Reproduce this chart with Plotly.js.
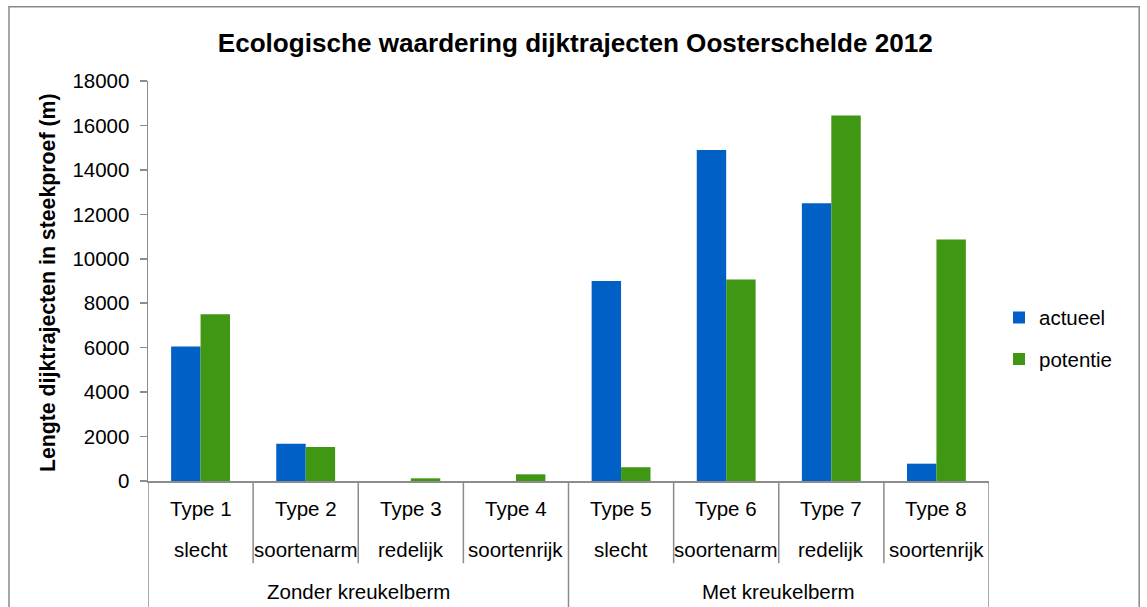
<!DOCTYPE html>
<html>
<head>
<meta charset="utf-8">
<script src="https://cdn.plot.ly/plotly-3.0.1.min.js"></script>
<style>html,body{margin:0;padding:0;background:#fff;}#chart{width:1147px;height:607px;}</style>
</head>
<body>
<div id="chart"></div>
<script>
const typeLabels = ["Type 1","Type 2","Type 3","Type 4","Type 5","Type 6","Type 7","Type 8"];
const qualityLabels = ["slecht","soortenarm","redelijk","soortenrijk","slecht","soortenarm","redelijk","soortenrijk"];
const groupLabels = ["Zonder kreukelberm","Met kreukelberm"];
const groupCenters = [1.5, 5.5];
const actueel = [6050, 1680, 0, 0, 9000, 14900, 12500, 780];
const potentie = [7500, 1530, 120, 300, 620, 9070, 16450, 10870];
const yTicks = [0,2000,4000,6000,8000,10000,12000,14000,16000,18000];

const FONT = '"Liberation Sans", Arial, Helvetica, sans-serif';
const idx = typeLabels.map((_, i) => i);

const traces = [
  {type:'bar', name:'actueel', x: idx, y: actueel, legendgroup:'a',
   marker:{color:'#0060C6', line:{width:0}}},
  {type:'bar', name:'potentie', x: idx, y: potentie, legendgroup:'p',
   marker:{color:'#409713', line:{width:0}}}
];

const annotations = [];
typeLabels.forEach((t, i) => {
  annotations.push({xref:'x', yref:'paper', x:i, y:-0.0677, text:t, showarrow:false,
    xanchor:'center', yanchor:'middle', font:{family:FONT, size:20.5, color:'#000'}});
  annotations.push({xref:'x', yref:'paper', x:i, y:-0.1704, text:qualityLabels[i], showarrow:false,
    xanchor:'center', yanchor:'middle', font:{family:FONT, size:20.5, color:'#000'}});
});
groupLabels.forEach((g, j) => {
  annotations.push({xref:'x', yref:'paper', x:groupCenters[j], y:-0.2757, text:g, showarrow:false,
    xanchor:'center', yanchor:'middle', font:{family:FONT, size:20.5, color:'#000'}});
});
annotations.push({xref:'paper', yref:'paper', x:-0.119, y:0.497, text:'<b>Lengte dijktrajecten in steekproef (m)</b>',
  textangle:-90, showarrow:false, xanchor:'center', yanchor:'middle', font:{family:FONT, size:21.3, color:'#000'}});

const shapes = [];
const lineCol = '#8c8c8c';
for (let k = -1; k < typeLabels.length; k++) {
  const xv = k + 0.5;
  const isGroupEdge = (k === -1 || k === 3 || k === 7);
  shapes.push({type:'line', xref:'x', yref:'paper', x0:xv, x1:xv, y0:0, y1: isGroupEdge ? -0.32 : -0.2055,
    line:{color:lineCol, width:1.5}});
}
// outer chart border
shapes.push({type:'rect', xref:'paper', yref:'paper', x0:-0.1653, x1:1.1786, y0:-0.4, y1:1.1855,
  line:{color:'#8a8a8a', width:1.5}, fillcolor:'rgba(0,0,0,0)', layer:'below'});

const layout = {
  width:1147, height:607,
  margin:{l:148, r:158, t:81, b:126, pad:0},
  paper_bgcolor:'#fff', plot_bgcolor:'#fff',
  font:{family:FONT, size:20.5, color:'#000'},
  title:{text:'<b>Ecologische waardering dijktrajecten Oosterschelde 2012</b>',
    font:{family:FONT, size:26.1, color:'#000'}, x:0.508, xanchor:'center', y:0.929, yanchor:'middle', xref:'paper', yref:'container'},
  barmode:'group', bargap:0.44, bargroupgap:0,
  xaxis:{type:'linear', range:[-0.5, 7.5], showticklabels:false, ticks:'', showgrid:false, zeroline:false,
    showline:true, linecolor:lineCol, linewidth:1.5, fixedrange:true},
  yaxis:{range:[0,18000], tickvals:yTicks, ticktext:yTicks.map(String), ticks:'outside', ticklen:7, tickwidth:1.5,
    tickcolor:lineCol, showline:true, linecolor:lineCol, linewidth:1.5, showgrid:false, zeroline:false,
    tickfont:{family:FONT, size:20.5, color:'#000'}, ticklabelstandoff:6},
  showlegend:true,
  legend:{x:1.0119, xanchor:'left', y:0.356, yanchor:'middle', tracegroupgap:12,
    font:{family:FONT, size:20.5, color:'#000'}, bgcolor:'rgba(0,0,0,0)', traceorder:'grouped'},
  annotations: annotations,
  shapes: shapes
};

Plotly.newPlot('chart', traces, layout, {displayModeBar:false, staticPlot:true});
</script>
</body>
</html>
